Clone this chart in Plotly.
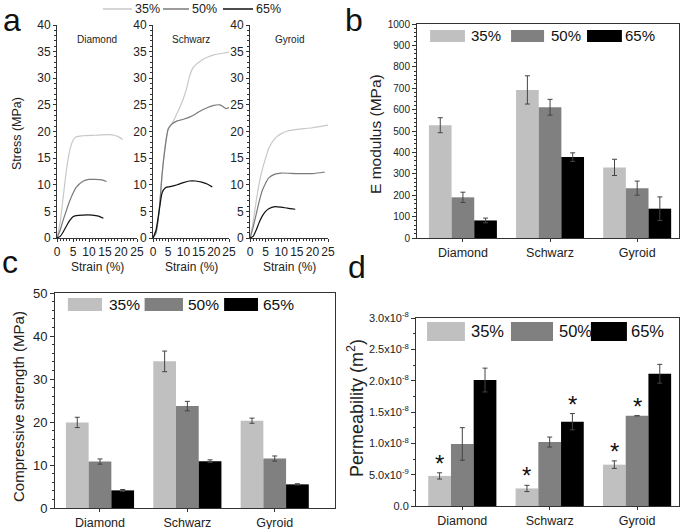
import plotly.graph_objects as go

FONT = "Liberation Sans, Arial, sans-serif"
COLORS = ["#c0c0c0", "#808080", "#000000"]
LINE_COLORS = ["#c8c8c8", "#7a7a7a", "#111111"]
POROSITY = ["35%", "50%", "65%"]
STRUCTURES = ["Diamond", "Schwarz", "Gyroid"]

# stress-strain curves (strain %, stress MPa)
diamond_35_x = [0, 1, 2, 3, 4, 5, 6, 8, 12, 16, 18, 19.5, 20.5]
diamond_35_y = [0, 3, 8, 13, 16.5, 18.3, 19, 19.2, 19.3, 19.4, 19.3, 18.9, 18.5]
diamond_50_x = [0, 1, 2, 3, 4, 5, 6, 8, 10, 12, 14, 15.5]
diamond_50_y = [0, 1.5, 3.5, 5.3, 7, 8.4, 9.5, 10.6, 11, 11, 10.9, 10.6]
diamond_65_x = [0, 1, 2, 3, 4, 5, 6, 8, 11, 13, 14.5]
diamond_65_y = [0, 0.3, 1.2, 2.3, 3.3, 4, 4.2, 4.3, 4.3, 4.1, 3.7]

schwarz_35_x = [0, 1, 2, 3, 4, 5, 6, 7, 8, 9, 10, 11, 12, 13, 14, 16, 18, 20, 22, 25]
schwarz_35_y = [0, 1, 5, 12, 17.5, 20.3, 21.3, 22.3, 23.5, 24.8, 26.2, 28, 30.3, 31.8, 32.5, 33.4, 34,
                34.4, 34.6, 34.9]
schwarz_50_x = [0, 1, 2, 3, 4, 5, 6, 8, 10, 12, 14, 16, 18, 20, 22, 23, 24, 25]
schwarz_50_y = [0, 1, 5, 12, 17, 20.5, 21.3, 22, 22.3, 22.7, 23.3, 24, 24.5, 24.9, 25, 24.7, 24.3, 24.5]
schwarz_65_x = [0, 1, 2, 3, 4, 5, 6, 8, 10, 12, 14, 16, 18, 19.5]
schwarz_65_y = [0, 1.5, 5, 8.5, 9.4, 9.6, 9.7, 10, 10.4, 10.7, 10.7, 10.5, 10.1, 9.6]

gyroid_35_x = [0, 1, 2, 3, 4, 5, 6, 8, 10, 12, 15, 20, 25]
gyroid_35_y = [0, 3, 7, 10.5, 13, 15, 16.8, 18.7, 19.6, 20.1, 20.4, 20.7, 21.2]
gyroid_50_x = [0, 1, 2, 3, 4, 5, 6, 8, 10, 15, 20, 24]
gyroid_50_y = [0, 2, 4.5, 7, 9, 10.3, 11.3, 12, 12.2, 12.1, 12.1, 12.4]
gyroid_65_x = [0, 1, 2, 3, 4, 5, 6, 8, 10, 12, 14.5]
gyroid_65_y = [0, 0.3, 1.5, 3, 4.2, 5, 5.5, 5.9, 5.8, 5.6, 5.4]

# bar data: rows = porosity, cols = structure
modulus = [[527, 692, 330], [190, 611, 233], [82, 378, 137]]
modulus_err = [[35, 66, 38], [24, 37, 33], [11, 20, 55]]
strength = [[19.9, 34.1, 20.3], [10.8, 23.7, 11.5], [4.1, 10.9, 5.5]]
strength_err = [[1.2, 2.4, 0.6], [0.6, 1.1, 0.6], [0.2, 0.3, 0.15]]
perm = [[0.48e-8, 0.28e-8, 0.66e-8], [0.99e-8, 1.02e-8, 1.44e-8], [2.01e-8, 1.345e-8, 2.11e-8]]
perm_err = [[0.05e-8, 0.05e-8, 0.06e-8], [0.26e-8, 0.08e-8, 0.0], [0.19e-8, 0.13e-8, 0.15e-8]]
perm_star = [[True, True, True], [False, False, True], [False, True, False]]

perm_tickvals = [0, 0.5e-8, 1.0e-8, 1.5e-8, 2.0e-8, 2.5e-8, 3.0e-8]
perm_ticktext = ["0.0", "5.0x10<sup>-9</sup>", "1.0x10<sup>-8</sup>", "1.5x10<sup>-8</sup>",
                 "2.0x10<sup>-8</sup>", "2.5x10<sup>-8</sup>", "3.0x10<sup>-8</sup>"]

curves = [
    [(diamond_35_x, diamond_35_y), (diamond_50_x, diamond_50_y), (diamond_65_x, diamond_65_y)],
    [(schwarz_35_x, schwarz_35_y), (schwarz_50_x, schwarz_50_y), (schwarz_65_x, schwarz_65_y)],
    [(gyroid_35_x, gyroid_35_y), (gyroid_50_x, gyroid_50_y), (gyroid_65_x, gyroid_65_y)],
]

W, H = 684, 529


def px(x):
    return x / W


def py(y):
    return 1 - y / H


def dx(a, b):
    return [px(a), px(b)]


def dy(top, bottom):
    return [py(bottom), py(top)]


def label(text, x, y, size, angle=0, anchor="center"):
    return dict(text=text, xref="paper", yref="paper", x=px(x), y=py(y), xanchor=anchor,
                yanchor="middle", showarrow=False, textangle=angle,
                font=dict(size=size, color="#222"))


fig = go.Figure()
annotations = []
shapes = []

# ---- panel a ----
a_dom = [dx(57, 137), dx(153, 229), dx(250, 328)]
for k, name in enumerate(STRUCTURES):
    xa = "x" if k == 0 else f"x{k + 1}"
    ya = "y" if k == 0 else f"y{k + 1}"
    for j, (xs, ys) in enumerate(curves[k]):
        fig.add_trace(go.Scatter(x=xs, y=ys, mode="lines", xaxis=xa, yaxis=ya,
                                 line=dict(color=LINE_COLORS[j], width=1.2, shape="spline", smoothing=0.6),
                                 showlegend=False))
    annotations.append(dict(text=name, xref=f"{xa} domain", yref=f"{ya} domain", x=0.5, y=0.965,
                            showarrow=False, font=dict(size=10, color="#222")))
    annotations.append(dict(text="Strain (%)", xref=f"{xa} domain", yref="paper", x=0.5, y=py(267),
                            yanchor="middle", showarrow=False, font=dict(size=12, color="#222")))
annotations.append(label("Stress (MPa)", 17, 134, 12.5, angle=-90))

axis_a = dict(showgrid=False, zeroline=False, showline=True, linecolor="#333", linewidth=1,
              automargin=False, tickangle=0,
              ticks="outside", ticklen=3, tickcolor="#333", tickfont=dict(size=12, color="#222"),
              minor=dict(ticks="outside", ticklen=2, tickcolor="#333"))
layout_axes = {}
for k in range(3):
    sx = "xaxis" if k == 0 else f"xaxis{k + 1}"
    sy = "yaxis" if k == 0 else f"yaxis{k + 1}"
    layout_axes[sx] = dict(axis_a, domain=a_dom[k], range=[0, 25], dtick=5,
                           anchor="y" if k == 0 else f"y{k + 1}")
    layout_axes[sy] = dict(axis_a, domain=dy(25, 238), range=[0, 40], dtick=5,
                           anchor="x" if k == 0 else f"x{k + 1}")

# legend of panel a
leg_a = [(103, 132), (163, 189), (223, 253)]
for j, (x0, x1) in enumerate(leg_a):
    shapes.append(dict(type="line", xref="paper", yref="paper", x0=px(x0), x1=px(x1),
                       y0=py(9), y1=py(9), line=dict(color=LINE_COLORS[j], width=1.5)))
    annotations.append(label(POROSITY[j], x1 + 1, 9, 12.5, anchor="left"))

# ---- bar panels ----
panels = [
    dict(n=4, data=modulus, err=modulus_err, xdom=dx(417, 679), ydom=dy(24, 238), xr=[-0.527, 2.48],
         yr=[0, 1000], dtick=100, tickfont=10, title="E modulus (MPa)", tsize=15.5, tpos=(375, 134),
         leg=[(0.05, 0.183, 0.2), (0.359, 0.485, 0.505), (0.649, 0.782, 0.786)], ly=(0.972, 0.916),
         lsize=15),
    dict(n=5, data=strength, err=strength_err, xdom=dx(55, 335), ydom=dy(293, 508), xr=[-0.515, 2.69],
         yr=[0, 50], dtick=10, tickfont=13, title="Compressive strength (MPa)", tsize=15, tpos=(18, 407),
         leg=[(0.046, 0.168, 0.184), (0.32, 0.457, 0.469), (0.604, 0.725, 0.734)], ly=(0.977, 0.916),
         lsize=15.5),
    dict(n=6, data=perm, err=perm_err, xdom=dx(416, 679), ydom=dy(318, 506), xr=[-0.53, 2.48],
         yr=[0, 3.0e-8], dtick=None, tickfont=11, title="Permeability (m<sup>2</sup>)", tsize=18,
         tpos=(355, 408),
         leg=[(0.042, 0.186, 0.203), (0.361, 0.521, 0.538), (0.665, 0.802, 0.811)], ly=(0.979, 0.878),
         lsize=16.5),
]

for p in panels:
    n = p["n"]
    for j in range(3):
        fig.add_trace(go.Bar(x=STRUCTURES, y=p["data"][j], name=POROSITY[j], xaxis=f"x{n}", yaxis=f"y{n}",
                             marker=dict(color=COLORS[j], line=dict(width=0)),
                             error_y=dict(type="data", array=p["err"][j], color="#444", thickness=1, width=2.5),
                             offsetgroup=str(j), showlegend=False))
    xax = dict(domain=p["xdom"], anchor=f"y{n}", range=p["xr"], showline=True, mirror=True,
               automargin=False, tickangle=0,
               linecolor="#333", linewidth=1, ticks="outside", ticklen=3, tickcolor="#333",
               showgrid=False, tickfont=dict(size=12.5, color="#222"))
    yax = dict(domain=p["ydom"], anchor=f"x{n}", range=p["yr"], showline=True, mirror=True,
               automargin=False,
               linecolor="#333", linewidth=1, ticks="outside", ticklen=4, tickcolor="#333",
               showgrid=False, zeroline=False, tickfont=dict(size=p["tickfont"], color="#222"),
               minor=dict(ticks="outside", ticklen=2, tickcolor="#333"))
    if p["dtick"]:
        yax["dtick"] = p["dtick"]
    else:
        yax["tickvals"] = perm_tickvals
        yax["ticktext"] = perm_ticktext
        yax["minor"]["tickvals"] = [0.25e-8, 0.75e-8, 1.25e-8, 1.75e-8, 2.25e-8, 2.75e-8]
    layout_axes[f"xaxis{n}"] = xax
    layout_axes[f"yaxis{n}"] = yax
    annotations.append(label(p["title"], p["tpos"][0], p["tpos"][1], p["tsize"], angle=-90))
    for j, (x0, x1, xt) in enumerate(p["leg"]):
        shapes.append(dict(type="rect", xref=f"x{n} domain", yref=f"y{n} domain", x0=x0, x1=x1,
                           y0=p["ly"][1], y1=p["ly"][0], fillcolor=COLORS[j], line=dict(width=0)))
        annotations.append(dict(text=POROSITY[j], xref=f"x{n} domain", yref=f"y{n} domain", x=xt,
                                y=sum(p["ly"]) / 2, xanchor="left", yanchor="middle", showarrow=False,
                                font=dict(size=p["lsize"], color="#111")))

# significance stars in panel d
bar_w = 0.78 / 3
for j in range(3):
    for i in range(3):
        if perm_star[j][i]:
            annotations.append(dict(text="*", xref="x6", yref="y6", x=i + (j - 1) * bar_w,
                                    y=perm[j][i] + perm_err[j][i], yanchor="bottom", showarrow=False,
                                    yshift=-6, font=dict(size=24, color="#111")))

# panel letters (a, b hang from the top edge)
for letter, x, y, anchor in [("a", 1, 0, "top"), ("b", 343, 0, "top"),
                             ("c", 0, 262, "middle"), ("d", 346, 267, "middle")]:
    annotations.append(dict(text=letter, xref="paper", yref="paper", x=px(x), y=py(y),
                            xanchor="left", yanchor=anchor, showarrow=False,
                            font=dict(size=32, color="#111")))

fig.update_layout(
    width=W, height=H, margin=dict(l=0, r=0, t=0, b=0),
    paper_bgcolor="white", plot_bgcolor="white",
    font=dict(family=FONT, color="#222"),
    barmode="group", bargap=0.22, bargroupgap=0,
    annotations=annotations, shapes=shapes, showlegend=False,
    **layout_axes,
)

# the page's default body margin would push the figure 8px off the window
fig.write_html("out.html", config={"staticPlot": True},
               post_script="document.body.style.margin = '0';")
